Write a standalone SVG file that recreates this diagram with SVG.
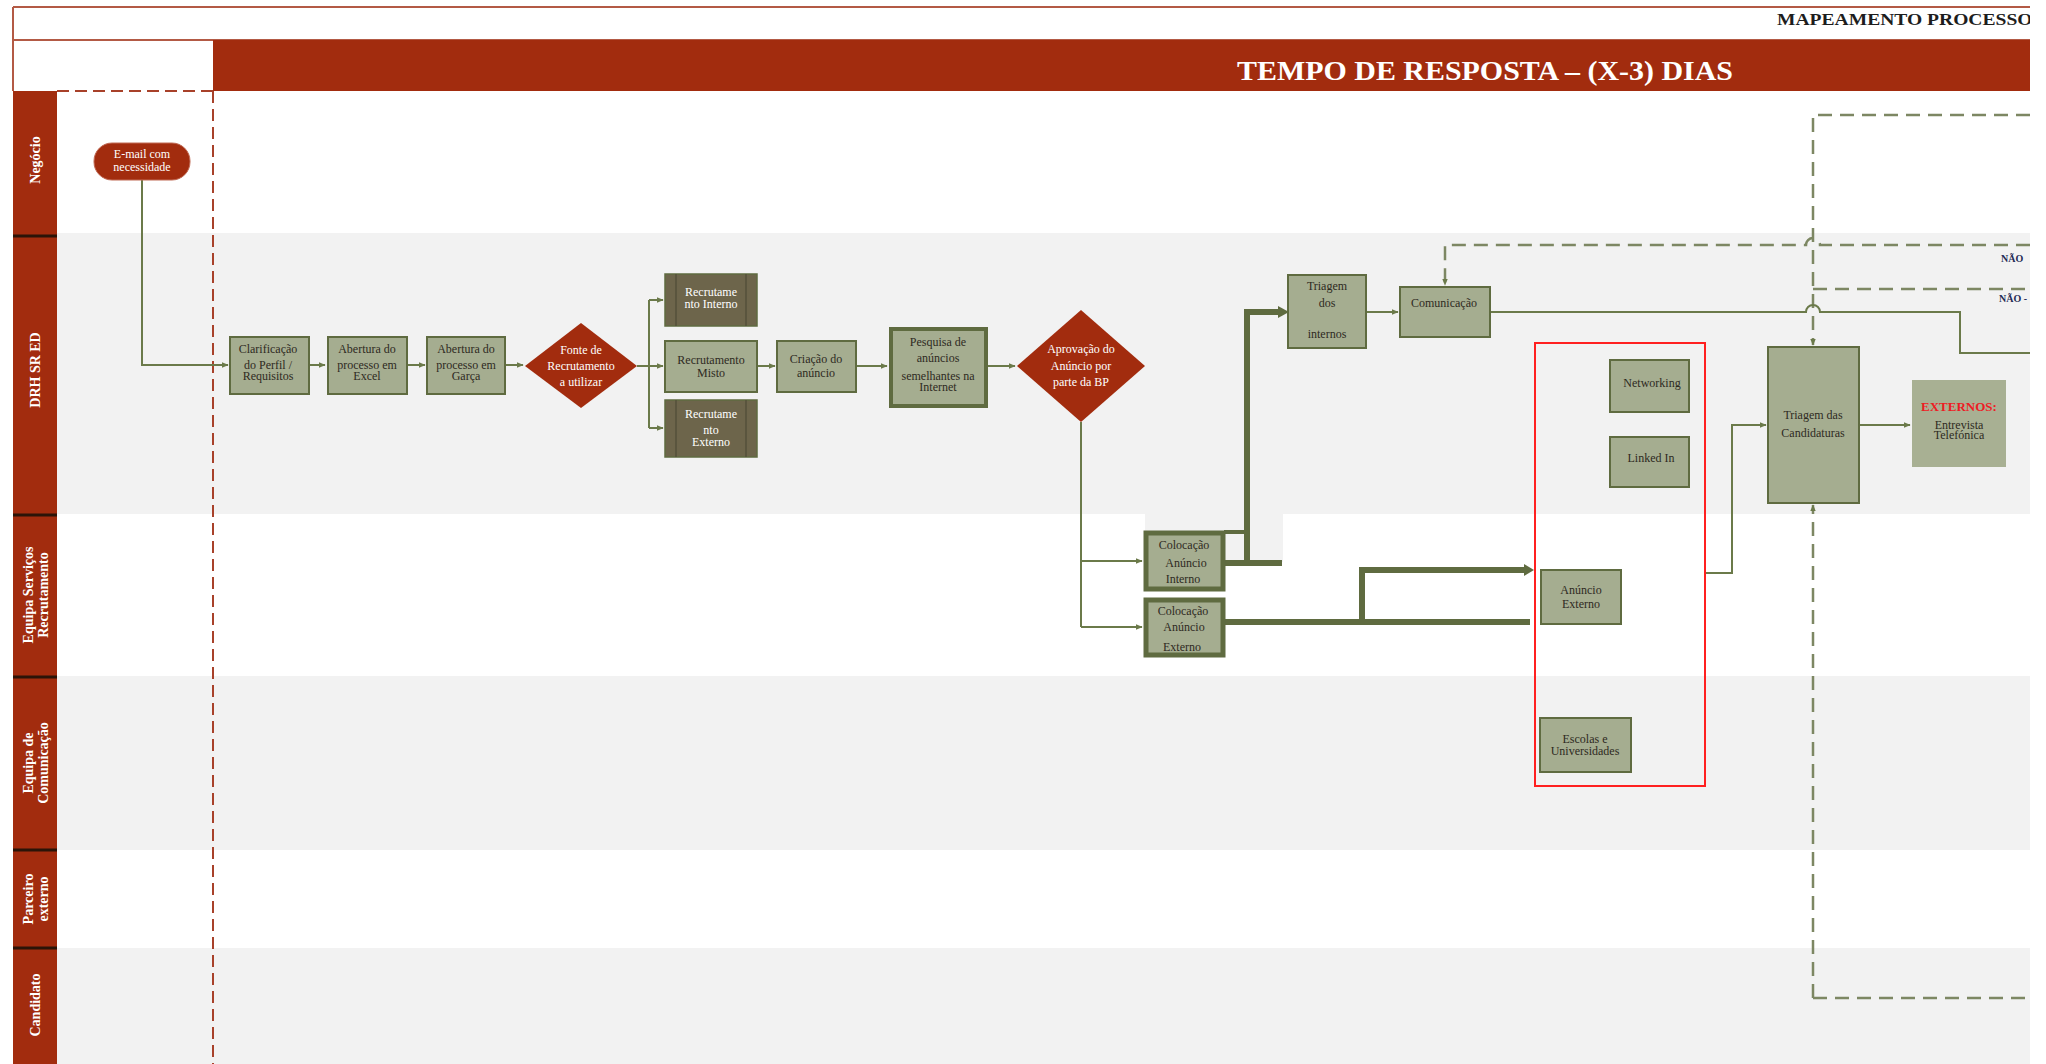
<svg xmlns="http://www.w3.org/2000/svg" width="2046" height="1064" viewBox="0 0 2046 1064">
  <style>
    .band { fill: #f2f2f2; }
    .hdr { fill: #a22c0e; }
    .frame { stroke: #b35a45; stroke-width: 2; fill: none; }
    .lanelbl { fill: #ffffff; font-family: "Liberation Serif", serif; font-weight: bold; font-size: 14px; text-anchor: middle; }
    .sep { stroke: #2b1408; stroke-width: 3; }
    .reddash { stroke: #a8412a; stroke-width: 2; stroke-dasharray: 12 6; fill: none; }
    .box { fill: #a5ad90; stroke: #5f6b40; stroke-width: 2; }
    .box-thick { fill: #a5ad90; stroke: #5f6b40; stroke-width: 5; }
    .box-mid { fill: #a5ad90; stroke: #5f6b40; stroke-width: 4; }
    .pre { fill: #6d654b; stroke: #5f6b40; stroke-width: 1.5; }
    .pre-line { stroke: #55503a; stroke-width: 1.5; }
    .dec { fill: #a22c0e; }
    .t { font-family: "Liberation Serif", serif; font-size: 12px; fill: #2e2a22; text-anchor: middle; }
    .tw { font-family: "Liberation Serif", serif; font-size: 12px; fill: #ffffff; text-anchor: middle; }
    .conn { stroke: #6b7a4a; stroke-width: 2; fill: none; }
    .conn-thick { stroke: #5f6b40; stroke-width: 6; fill: none; }
    .dash { stroke: #7d8763; stroke-width: 2.5; stroke-dasharray: 14 8; fill: none; }
    .redbox { fill: none; stroke: #ff2020; stroke-width: 2; }
    .no { font-family: "Liberation Serif", serif; font-size: 10px; font-weight: bold; fill: #1f2a55; }
  </style>
  <defs>
    <marker id="arr" viewBox="0 0 10 10" refX="9" refY="5" markerWidth="7" markerHeight="7" orient="auto" markerUnits="userSpaceOnUse">
      <path d="M0,1 L10,5 L0,9 z" fill="#6b7a4a"/>
    </marker>
    <clipPath id="page">
      <rect x="0" y="0" width="2030" height="1064"/>
    </clipPath>
  </defs>

  <rect x="0" y="0" width="2046" height="1064" fill="#ffffff"/>

  <g clip-path="url(#page)">
    <!-- lane backgrounds -->
    <g id="lanes-bg">
      <rect class="band" x="57" y="233" width="1973" height="281"/>
      <rect class="band" x="1145" y="513" width="138" height="49"/>
      <rect class="band" x="57" y="676" width="1973" height="174"/>
      <rect class="band" x="57" y="948" width="1973" height="116"/>
    </g>

    <!-- header -->
    <g id="header">
      <line class="frame" x1="13" y1="7" x2="2030" y2="7"/>
      <line class="frame" x1="13" y1="40" x2="2030" y2="40"/>
      <line class="frame" x1="13" y1="7" x2="13" y2="91"/>
      <rect class="hdr" x="213" y="40" width="1817" height="51"/>
      <text x="1777" y="25" font-family="Liberation Serif, serif" font-weight="bold" font-size="17" fill="#1d1d1d" textLength="262" lengthAdjust="spacingAndGlyphs">MAPEAMENTO PROCESSO:</text>
      <text x="1485" y="80" font-family="Liberation Serif, serif" font-weight="bold" font-size="27" fill="#ffffff" text-anchor="middle" textLength="496" lengthAdjust="spacingAndGlyphs">TEMPO DE RESPOSTA – (X-3) DIAS</text>
    </g>

    <!-- lane labels -->
    <g id="lane-labels">
      <rect class="hdr" x="13" y="91" width="44" height="973"/>
      <line class="sep" x1="13" y1="236" x2="57" y2="236"/>
      <line class="sep" x1="13" y1="515" x2="57" y2="515"/>
      <line class="sep" x1="13" y1="677" x2="57" y2="677"/>
      <line class="sep" x1="13" y1="850" x2="57" y2="850"/>
      <line class="sep" x1="13" y1="948" x2="57" y2="948"/>
      <text class="lanelbl" transform="translate(40,160) rotate(-90)">Negócio</text>
      <text class="lanelbl" transform="translate(40,370) rotate(-90)">DRH SR ED</text>
      <text class="lanelbl" transform="translate(33,595) rotate(-90)">Equipa Serviços</text>
      <text class="lanelbl" transform="translate(48,595) rotate(-90)">Recrutamento</text>
      <text class="lanelbl" transform="translate(33,763) rotate(-90)">Equipa de</text>
      <text class="lanelbl" transform="translate(48,763) rotate(-90)">Comunicação</text>
      <text class="lanelbl" transform="translate(33,899) rotate(-90)">Parceiro</text>
      <text class="lanelbl" transform="translate(48,899) rotate(-90)">externo</text>
      <text class="lanelbl" transform="translate(40,1005) rotate(-90)">Candidato</text>
    </g>

    <!-- phase boundary -->
    <g id="phase">
      <line class="reddash" x1="57" y1="91" x2="213" y2="91"/>
      <line class="reddash" x1="213" y1="91" x2="213" y2="1064"/>
    </g>

    <!-- connectors -->
    <g id="connectors">
      <path class="conn" d="M142,180 V365 H228" marker-end="url(#arr)"/>
      <path class="conn" d="M309,365 H325" marker-end="url(#arr)"/>
      <path class="conn" d="M407,365 H425" marker-end="url(#arr)"/>
      <path class="conn" d="M505,365 H523" marker-end="url(#arr)"/>
      <path class="conn" d="M637,366 H649"/>
      <path class="conn" d="M649,300 V428"/>
      <path class="conn" d="M649,300 H663" marker-end="url(#arr)"/>
      <path class="conn" d="M649,366 H663" marker-end="url(#arr)"/>
      <path class="conn" d="M649,428 H663" marker-end="url(#arr)"/>
      <path class="conn" d="M757,366 H775" marker-end="url(#arr)"/>
      <path class="conn" d="M856,366 H887" marker-end="url(#arr)"/>
      <path class="conn" d="M987,366 H1015" marker-end="url(#arr)"/>
      <path class="conn" d="M1081,422 V627"/>
      <path class="conn" d="M1081,561 H1142" marker-end="url(#arr)"/>
      <path class="conn" d="M1081,627 H1142" marker-end="url(#arr)"/>

      <!-- internal advert: to screening of internal candidates -->
      <path class="conn-thick" d="M1224,563 H1282"/>
      <path class="conn-thick" d="M1247,563 V312 H1280"/>
      <path d="M1278,306 L1289,312 L1278,318 z" fill="#5f6b40"/>
      <line x1="1224" y1="532" x2="1247" y2="532" stroke="#5f6b40" stroke-width="4"/>

      <!-- external advert: to external channels -->
      <path class="conn-thick" d="M1224,622 H1530"/>
      <path class="conn-thick" d="M1362,622 V570 H1526"/>
      <path d="M1524,564 L1534,570 L1524,576 z" fill="#5f6b40"/>

      <path class="conn" d="M1367,312 H1398" marker-end="url(#arr)"/>

      <!-- rejected feedback loops -->
      <path class="dash" d="M2030,245 H1820 A7,7 0 0 0 1806,245 H1445 V285" marker-end="url(#arr)"/>
      <path class="dash" d="M1813,289 H2030"/>
      <path class="dash" d="M2030,115 H1813 V345" marker-end="url(#arr)"/>
      <path class="dash" d="M1813,998 V505" marker-end="url(#arr)"/>
      <path class="dash" d="M1813,998 H2030"/>

      <path class="conn" d="M1490,312 H1806 A7,7 0 0 1 1820,312 H1960 V353 H2030"/>

      <path class="conn" d="M1705,573 H1732 V425 H1766" marker-end="url(#arr)"/>
      <path class="conn" d="M1859,425 H1910" marker-end="url(#arr)"/>

      <text class="no" x="2001" y="262">NÃO</text>
      <text class="no" x="1999" y="302">NÃO -</text>
    </g>

    <!-- nodes -->
    <g id="n-email">
      <rect x="94" y="143" width="96" height="37" rx="18" ry="18" fill="#a22c0e" stroke="#c06a55" stroke-width="1"/>
      <text class="tw" x="142" y="158" font-size="11">E-mail com</text>
      <text class="tw" x="142" y="171" font-size="11">necessidade</text>
    </g>

    <g id="n-clarificacao">
      <rect class="box" x="230" y="337" width="79" height="57"/>
      <text class="t" x="268" y="353">Clarificação</text>
      <text class="t" x="268" y="369">do Perfil /</text>
      <text class="t" x="268" y="380">Requisitos</text>
    </g>

    <g id="n-abertura-excel">
      <rect class="box" x="328" y="337" width="79" height="57"/>
      <text class="t" x="367" y="353">Abertura do</text>
      <text class="t" x="367" y="369">processo em</text>
      <text class="t" x="367" y="380">Excel</text>
    </g>

    <g id="n-abertura-garca">
      <rect class="box" x="427" y="337" width="78" height="57"/>
      <text class="t" x="466" y="353">Abertura do</text>
      <text class="t" x="466" y="369">processo em</text>
      <text class="t" x="466" y="380">Garça</text>
    </g>

    <g id="n-fonte">
      <polygon class="dec" points="581,323 637,366 581,408 525,366"/>
      <text class="tw" x="581" y="354">Fonte de</text>
      <text class="tw" x="581" y="370">Recrutamento</text>
      <text class="tw" x="581" y="386">a utilizar</text>
    </g>

    <g id="n-rec-interno">
      <rect class="pre" x="665" y="274" width="92" height="52"/>
      <line class="pre-line" x1="676" y1="274" x2="676" y2="326"/>
      <line class="pre-line" x1="746" y1="274" x2="746" y2="326"/>
      <text class="tw" x="711" y="296">Recrutame</text>
      <text class="tw" x="711" y="308">nto Interno</text>
    </g>

    <g id="n-rec-misto">
      <rect class="box" x="665" y="341" width="92" height="51"/>
      <text class="t" x="711" y="364">Recrutamento</text>
      <text class="t" x="711" y="377">Misto</text>
    </g>

    <g id="n-rec-externo">
      <rect class="pre" x="665" y="400" width="92" height="57"/>
      <line class="pre-line" x1="676" y1="400" x2="676" y2="457"/>
      <line class="pre-line" x1="746" y1="400" x2="746" y2="457"/>
      <text class="tw" x="711" y="418">Recrutame</text>
      <text class="tw" x="711" y="434">nto</text>
      <text class="tw" x="711" y="446">Externo</text>
    </g>

    <g id="n-criacao">
      <rect class="box" x="777" y="341" width="79" height="51"/>
      <text class="t" x="816" y="363">Criação do</text>
      <text class="t" x="816" y="377">anúncio</text>
    </g>

    <g id="n-pesquisa">
      <rect class="box-mid" x="891" y="329" width="95" height="77"/>
      <text class="t" x="938" y="346">Pesquisa de</text>
      <text class="t" x="938" y="362">anúncios</text>
      <text class="t" x="938" y="380">semelhantes na</text>
      <text class="t" x="938" y="391">Internet</text>
    </g>

    <g id="n-aprovacao">
      <polygon class="dec" points="1081,310 1145,366 1081,422 1017,366"/>
      <text class="tw" x="1081" y="353">Aprovação do</text>
      <text class="tw" x="1081" y="370">Anúncio por</text>
      <text class="tw" x="1081" y="386">parte da BP</text>
    </g>

    <g id="n-coloc-interno">
      <rect class="box-thick" x="1146" y="533" width="77" height="56"/>
      <text class="t" x="1184" y="549">Colocação</text>
      <text class="t" x="1186" y="567">Anúncio</text>
      <text class="t" x="1183" y="583">Interno</text>
    </g>

    <g id="n-coloc-externo">
      <rect class="box-thick" x="1146" y="600" width="77" height="55"/>
      <text class="t" x="1183" y="615">Colocação</text>
      <text class="t" x="1184" y="631">Anúncio</text>
      <text class="t" x="1182" y="651">Externo</text>
    </g>

    <g id="n-triagem-internos">
      <rect class="box" x="1288" y="275" width="78" height="73"/>
      <text class="t" x="1327" y="290">Triagem</text>
      <text class="t" x="1327" y="307">dos</text>
      <text class="t" x="1327" y="338">internos</text>
    </g>

    <g id="n-comunicacao">
      <rect class="box" x="1400" y="287" width="90" height="50"/>
      <text class="t" x="1444" y="307">Comunicação</text>
    </g>

    <g id="n-canais">
      <rect class="redbox" x="1535" y="343" width="170" height="443"/>
    </g>

    <g id="n-networking">
      <rect class="box" x="1610" y="360" width="79" height="52"/>
      <text class="t" x="1652" y="387">Networking</text>
    </g>

    <g id="n-linkedin">
      <rect class="box" x="1610" y="437" width="79" height="50"/>
      <text class="t" x="1651" y="462">Linked In</text>
    </g>

    <g id="n-anuncio-externo">
      <rect class="box" x="1541" y="570" width="80" height="54"/>
      <text class="t" x="1581" y="594">Anúncio</text>
      <text class="t" x="1581" y="608">Externo</text>
    </g>

    <g id="n-escolas">
      <rect class="box" x="1540" y="718" width="91" height="54"/>
      <text class="t" x="1585" y="743">Escolas e</text>
      <text class="t" x="1585" y="755">Universidades</text>
    </g>

    <g id="n-triagem-candidaturas">
      <rect class="box" x="1768" y="347" width="91" height="156"/>
      <text class="t" x="1813" y="419">Triagem das</text>
      <text class="t" x="1813" y="437">Candidaturas</text>
    </g>

    <g id="n-externos">
      <rect x="1912" y="380" width="94" height="87" fill="#a8b093"/>
      <text x="1959" y="411" font-family="Liberation Serif, serif" font-size="13" font-weight="bold" fill="#ee1c24" text-anchor="middle">EXTERNOS:</text>
      <text class="t" x="1959" y="429">Entrevista</text>
      <text class="t" x="1959" y="439">Telefónica</text>
    </g>
  </g>
</svg>
